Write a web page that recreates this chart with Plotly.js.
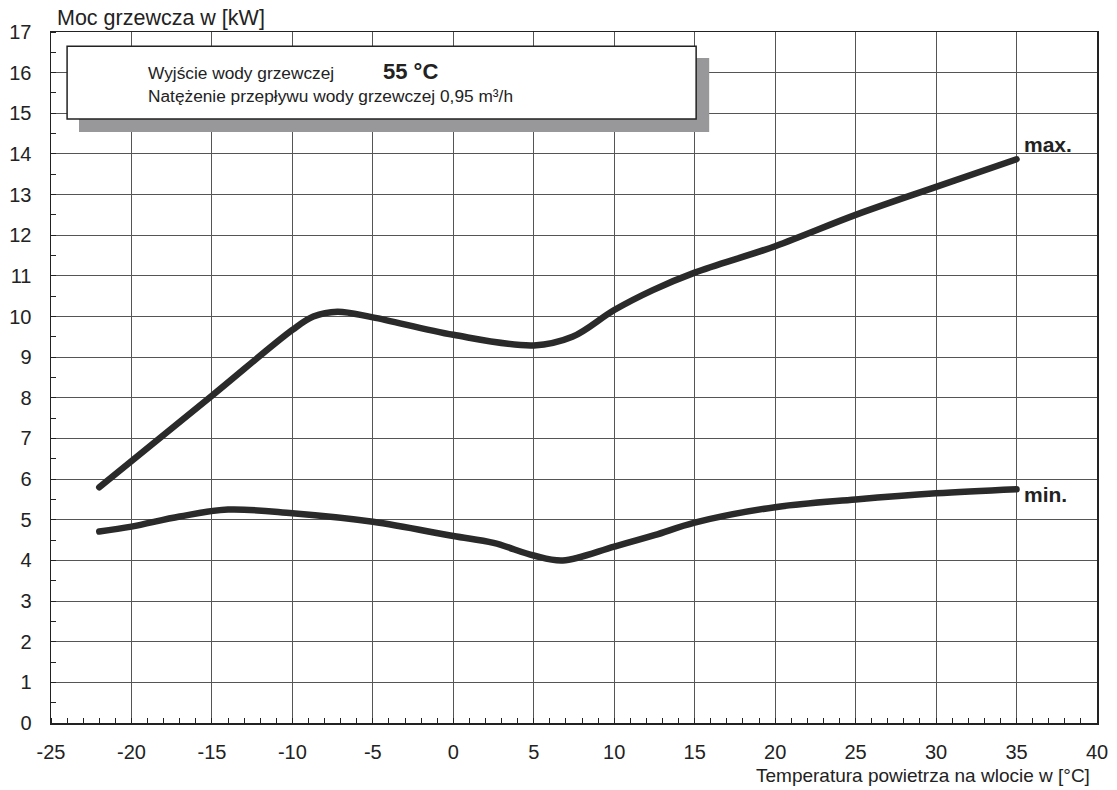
<!DOCTYPE html>
<html>
<head>
<meta charset="utf-8">
<script src="https://cdn.plot.ly/plotly-3.0.1.min.js"></script>
<style>
html,body{margin:0;padding:0;background:#fff;}
#chart{width:1117px;height:790px;}
.scatterlayer path.js-line{stroke-linecap:round;stroke-linejoin:round;}
</style>
</head>
<body>
<div id="chart"></div>
<script>
// Data
const maxX = [-22, -15, -10, -8.7, -7.2, -5, 0, 5, 7.4, 10, 12.4, 15, 20, 25, 30, 35];
const maxY = [5.8, 8.05, 9.67, 10.0, 10.12, 9.98, 9.55, 9.29, 9.5, 10.16, 10.65, 11.08, 11.73, 12.5, 13.19, 13.87];
const minX = [-22, -20, -17, -14, -10, -5, 0, 2.5, 5, 6.8, 10, 12.5, 15, 20, 25, 30, 35];
const minY = [4.71, 4.83, 5.08, 5.25, 5.16, 4.95, 4.6, 4.43, 4.12, 4.0, 4.34, 4.62, 4.93, 5.31, 5.5, 5.65, 5.75];
const seriesLabels = ["max.", "min."];
const xTicks = [-25, -20, -15, -10, -5, 0, 5, 10, 15, 20, 25, 30, 35, 40];
const yTicks = [0, 1, 2, 3, 4, 5, 6, 7, 8, 9, 10, 11, 12, 13, 14, 15, 16, 17];
const yTitle = "Moc grzewcza w [kW]";
const xTitle = "Temperatura powietrza na wlocie w [°C]";
const boxLine1 = "Wyjście wody grzewczej";
const boxTemp = "55 °C";
const boxLine2 = "Natężenie przepływu wody grzewczej 0,95 m³/h";

const FONT = "Liberation Sans, Arial, sans-serif";
const lineStyle = {color: "#2a2a2a", width: 6.5, shape: "spline", smoothing: 1};

const traces = [
  {x: maxX, y: maxY, mode: "lines", line: lineStyle, name: seriesLabels[0], hoverinfo: "x+y"},
  {x: minX, y: minY, mode: "lines", line: lineStyle, name: seriesLabels[1], hoverinfo: "x+y"}
];

const layout = {
  width: 1117, height: 790,
  margin: {l: 51, r: 20, t: 32, b: 67},
  paper_bgcolor: "#fff", plot_bgcolor: "#fff",
  showlegend: false,
  font: {family: FONT, color: "#222", size: 20},
  xaxis: {
    range: [-25, 40], tickvals: xTicks, ticktext: xTicks.map(String),
    showgrid: true, gridcolor: "#555", gridwidth: 1,
    showline: true, linecolor: "#222", linewidth: 1.5, mirror: true,
    ticks: "", zeroline: false, ticklabelstandoff: 10,
    minor: {dtick: 1, tick0: 0, ticks: "inside", ticklen: 5, tickcolor: "#222", tickwidth: 1, showgrid: false},
    tickfont: {size: 20, family: FONT, color: "#222"}
  },
  yaxis: {
    range: [0, 17], tickvals: yTicks, ticktext: yTicks.map(String),
    showgrid: true, gridcolor: "#555", gridwidth: 1,
    showline: true, linecolor: "#222", linewidth: 1.5, mirror: true,
    ticks: "", zeroline: false, ticklabelstandoff: 14,
    minor: {dtick: 0.5, tick0: 0, ticks: "inside", ticklen: 5, tickcolor: "#222", tickwidth: 1, showgrid: false},
    tickfont: {size: 20, family: FONT, color: "#222"}
  },
  shapes: [
    {type: "rect", xref: "x", yref: "y", x0: -23.26, x1: 15.9, y0: 14.54, y1: 16.36,
     fillcolor: "#98989b", line: {width: 0}, layer: "above"},
    {type: "rect", xref: "x", yref: "y", x0: -24.0, x1: 15.09, y0: 14.86, y1: 16.65,
     fillcolor: "#ffffff", line: {color: "#222", width: 1.5}, layer: "above"}
  ],
  annotations: [
    {text: yTitle, xref: "paper", yref: "paper", x: 0.0038, y: 1.0, yshift: 14, xanchor: "left", yanchor: "middle",
     showarrow: false, font: {size: 21.5, family: FONT, color: "#222"}},
    {text: xTitle, xref: "paper", yref: "paper", x: 0.9955, y: 0, yshift: -52, xanchor: "right", yanchor: "middle",
     showarrow: false, font: {size: 19, family: FONT, color: "#222"}},
    {text: boxLine1, xref: "x", yref: "y", x: -19.1, y: 16.0, xanchor: "left", yanchor: "middle",
     showarrow: false, font: {size: 17.3, family: FONT, color: "#222"}},
    {text: "<b>" + boxTemp + "</b>", xref: "x", yref: "y", x: -4.5, y: 16.03, xanchor: "left", yanchor: "middle",
     showarrow: false, font: {size: 22, family: FONT, color: "#222"}},
    {text: boxLine2, xref: "x", yref: "y", x: -19.1, y: 15.43, xanchor: "left", yanchor: "middle",
     showarrow: false, font: {size: 17.3, family: FONT, color: "#222"}},
    {text: "<b>" + seriesLabels[0] + "</b>", xref: "x", yref: "y", x: 35, y: maxY[maxY.length - 1], xshift: 5, yshift: 15,
     xanchor: "left", yanchor: "middle", showarrow: false, font: {size: 21, family: FONT, color: "#222"}},
    {text: "<b>" + seriesLabels[1] + "</b>", xref: "x", yref: "y", x: 35, y: minY[minY.length - 1], xshift: 5, yshift: -5,
     xanchor: "left", yanchor: "middle", showarrow: false, font: {size: 21, family: FONT, color: "#222"}}
  ]
};

Plotly.newPlot("chart", traces, layout, {displayModeBar: false, staticPlot: true});
</script>
</body>
</html>
